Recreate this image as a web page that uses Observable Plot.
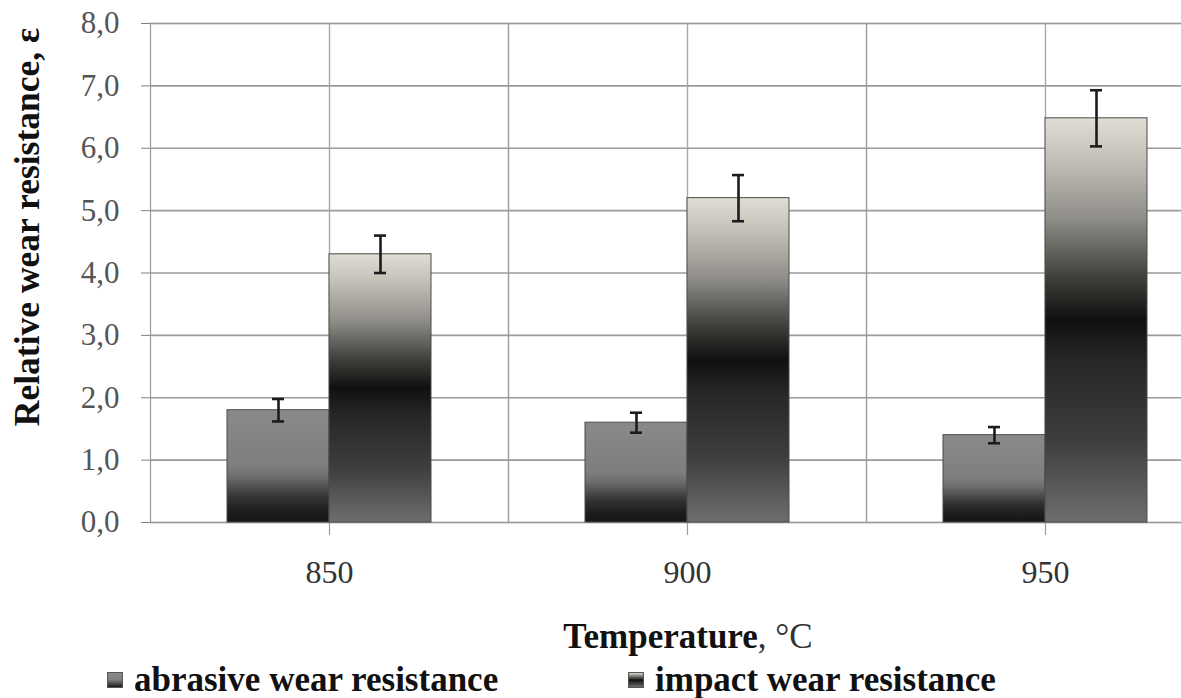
<!DOCTYPE html>
<html>
<head>
<meta charset="utf-8">
<script src="https://cdn.jsdelivr.net/npm/d3@7"></script>
<script src="https://cdn.jsdelivr.net/npm/@observablehq/plot@0.6"></script>
<style>
  html, body { margin: 0; padding: 0; background: #fff; overflow: hidden; }
  #wrap { position: relative; width: 1181px; height: 698px; font-family: "Liberation Serif", "Times New Roman", serif; color: #111; }
  #chart { position: absolute; left: 0; top: 0; }
  #chart svg text { font-family: "Liberation Serif", "Times New Roman", serif; }
  .ytitle { position: absolute; left: 27px; top: 227px; transform: translate(-50%, -50%) rotate(-90deg); white-space: nowrap; font-weight: bold; font-size: 35.5px; }
  .xtitle { position: absolute; left: 688px; top: 637px; transform: translate(-50%, -50%); white-space: nowrap; font-size: 35px; }
  .xtitle b { font-weight: bold; }
  .xtitle span { font-weight: normal; color: #333; }
  .leg { position: absolute; top: 680px; transform: translateY(-50%); white-space: nowrap; font-weight: bold; font-size: 35px; display: flex; align-items: center; }
  .sw { display: inline-block; width: 14px; height: 14px; margin-right: 11px; border: 1px solid #555; }
</style>
</head>
<body>
<div id="wrap">
  <div id="chart"></div>
  <div class="ytitle">Relative wear resistance, ε</div>
  <div class="xtitle"><b>Temperature</b><span>, °C</span></div>
  <div class="leg" style="left:107px"><span class="sw" style="background:linear-gradient(#8a8a8a,#7e7e7e 50%,#1a1a1a)"></span>abrasive wear resistance</div>
  <div class="leg" style="left:628px"><span class="sw" style="background:linear-gradient(#d8d5cc,#111 50%,#6e6e6e)"></span>impact wear resistance</div>
</div>
<script>
const temps = ["850", "900", "950"];
const seriesNames = ["abrasive", "impact"];
const abrasive = [1.8, 1.6, 1.4];
const abrasiveErr = [0.18, 0.16, 0.13];
const impact = [4.3, 5.2, 6.48];
const impactErr = [0.3, 0.37, 0.45];
const yTicks = [0, 1, 2, 3, 4, 5, 6, 7, 8];

const rows = [];
temps.forEach((t, i) => {
  rows.push({temp: t, series: "abrasive", value: abrasive[i], err: abrasiveErr[i]});
  rows.push({temp: t, series: "impact", value: impact[i], err: impactErr[i]});
});

const serif = '"Liberation Serif", "Times New Roman", serif';

const chart = Plot.plot({
  width: 1181,
  height: 610,
  marginTop: 23,
  marginBottom: 88,
  marginLeft: 149,
  marginRight: -44,
  style: {fontFamily: serif, background: "transparent"},
  fx: {domain: temps, padding: 0, axis: null},
  x: {domain: seriesNames, axis: null, paddingInner: 0, paddingOuter: 0.738},
  y: {domain: [0, 8]},
  marks: [
    Plot.gridY({ticks: yTicks, stroke: "#9a9a9a", strokeOpacity: 1, strokeWidth: 1.6}),
    Plot.frame({stroke: "#9a9a9a", strokeWidth: 1.2}),
    Plot.ruleX(temps, {fx: d => d, x: null, frameAnchor: "left", insetBottom: -13, stroke: "#9a9a9a", strokeWidth: 1.2}),
    Plot.gridFx({stroke: "#a8a8a8", strokeOpacity: 1, strokeWidth: 1.2}),
    Plot.barY(rows.filter(d => d.series === "abrasive"), {fx: "temp", x: "series", y: "value", fill: "url(#gAbr)", stroke: "#4a4a4a", strokeWidth: 1}),
    Plot.barY(rows.filter(d => d.series === "impact"), {fx: "temp", x: "series", y: "value", fill: "url(#gImp)", stroke: "#4a4a4a", strokeWidth: 1}),
    Plot.ruleX(rows, {fx: "temp", x: "series", y1: d => d.value - d.err, y2: d => d.value + d.err, stroke: "#1c1c1c", strokeWidth: 2.6}),
    Plot.tickY(rows, {fx: "temp", x: "series", y: d => d.value - d.err, stroke: "#1c1c1c", strokeWidth: 2.6, insetLeft: 45, insetRight: 45}),
    Plot.tickY(rows, {fx: "temp", x: "series", y: d => d.value + d.err, stroke: "#1c1c1c", strokeWidth: 2.6, insetLeft: 45, insetRight: 45}),
    Plot.axisY({ticks: yTicks, tickFormat: d => d.toFixed(1).replace(".", ","), tickSize: 9, tickPadding: 22, fontSize: 31, fontFamily: serif, label: null, color: "#555", stroke: "#808080"}),
    Plot.text(temps, {fx: d => d, text: d => d, frameAnchor: "bottom", dy: 60, fontSize: 32, fontFamily: serif, fill: "#333"})
  ]
});

const defs = d3.select(chart).insert("defs", ":first-child");
const gA = defs.append("linearGradient").attr("id", "gAbr").attr("x1", 0).attr("y1", 0).attr("x2", 0).attr("y2", 1);
[[0, "#8a8a8a"], [0.5, "#7e7e7e"], [0.6, "#6c6c6c"], [0.78, "#333333"], [0.92, "#1b1b1b"], [1, "#161616"]]
  .forEach(([o, c]) => gA.append("stop").attr("offset", o).attr("stop-color", c));
const gI = defs.append("linearGradient").attr("id", "gImp").attr("x1", 0).attr("y1", 0).attr("x2", 0).attr("y2", 1);
[[0, "#e0ddd4"], [0.1, "#c4c1b9"], [0.25, "#8f8d88"], [0.4, "#3c3c38"], [0.5, "#101010"], [0.6, "#262626"], [0.8, "#3e3e3e"], [1, "#6e6e6e"]]
  .forEach(([o, c]) => gI.append("stop").attr("offset", o).attr("stop-color", c));

document.getElementById("chart").appendChild(chart);
</script>
</body>
</html>
